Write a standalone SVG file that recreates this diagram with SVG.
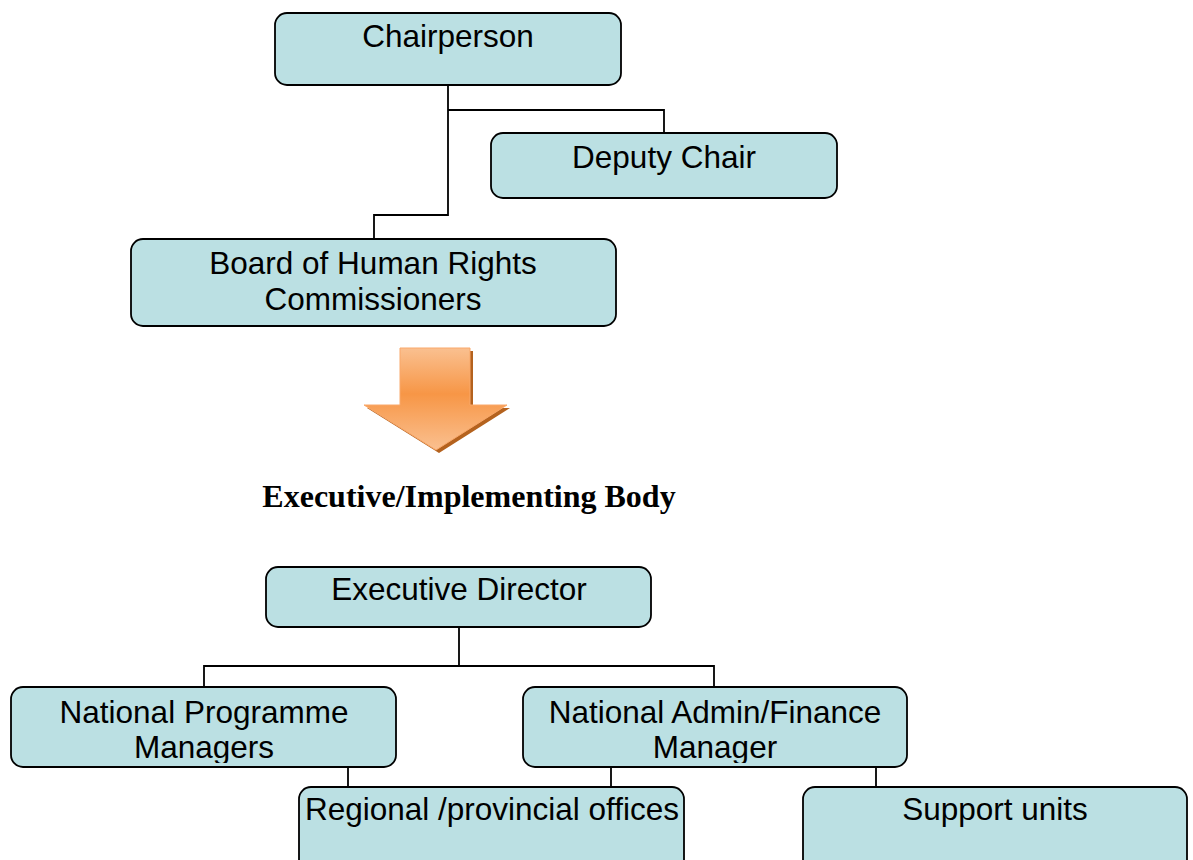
<svg xmlns="http://www.w3.org/2000/svg" width="1193" height="860" viewBox="0 0 1193 860">
  <style>
    .box { fill: #BBE0E3; stroke: #000; stroke-width: 1.8; }
    .lbl { font-family: "Liberation Sans", Arial, sans-serif; font-size: 31.5px; fill: #000; text-anchor: middle; }
    .conn { fill: none; stroke: #000; stroke-width: 1.8; }
    .title { font-family: "Liberation Serif", "Times New Roman", serif; font-size: 32px; font-weight: bold; fill: #000; text-anchor: middle; }
  </style>
  <defs>
    <linearGradient id="og" gradientUnits="userSpaceOnUse" x1="0" y1="348" x2="0" y2="450">
      <stop offset="0" stop-color="#FAC090"/>
      <stop offset="0.45" stop-color="#F79646"/>
      <stop offset="1" stop-color="#FAC090"/>
    </linearGradient>
    <clipPath id="clipNPM"><rect x="11" y="687" width="385" height="76"/></clipPath>
    <clipPath id="clipNAF"><rect x="523" y="687" width="384" height="76"/></clipPath>
  </defs>
  <rect width="1193" height="860" fill="#fff"/>

  <g id="connectors">
    <path class="conn" d="M448 85 V215 H374 V239"/>
    <path class="conn" d="M448 110 H664 V133"/>
    <path class="conn" d="M459 627 V666 M204 687 V666 H714 V687"/>
    <path class="conn" d="M348 767 V787 M611 767 V787 M876 767 V787"/>
  </g>

  <g id="chairperson">
    <rect class="box" x="275" y="13" width="346" height="72" rx="12"/>
    <text class="lbl" x="448" y="47">Chairperson</text>
  </g>
  <g id="deputy-chair">
    <rect class="box" x="491" y="133" width="346" height="65" rx="12"/>
    <text class="lbl" x="664" y="168">Deputy Chair</text>
  </g>
  <g id="board">
    <rect class="box" x="131" y="239" width="485" height="87" rx="12"/>
    <text class="lbl" x="373" y="274">Board of Human Rights</text>
    <text class="lbl" x="373" y="310">Commissioners</text>
  </g>

  <g id="arrow">
    <path d="M403 351 H473 V408 H510 L439 453 L367 408 H403 Z" fill="#B4621E"/>
    <path d="M400 348 H470 V405 H507 L436 450 L364 405 H400 Z" fill="url(#og)" stroke="#F9A86A" stroke-width="1"/>
  </g>

  <g id="executive-title">
    <text class="title" x="469" y="507">Executive/Implementing Body</text>
  </g>

  <g id="executive-director">
    <rect class="box" x="266" y="567" width="385" height="60" rx="12"/>
    <text class="lbl" x="459" y="600">Executive Director</text>
  </g>
  <g id="national-programme-managers">
    <rect class="box" x="11" y="687" width="385" height="80" rx="12"/>
    <g clip-path="url(#clipNPM)">
      <text class="lbl" x="204" y="723">National Programme</text>
      <text class="lbl" x="204" y="758">Managers</text>
    </g>
  </g>
  <g id="national-admin-finance-manager">
    <rect class="box" x="523" y="687" width="384" height="80" rx="12"/>
    <g clip-path="url(#clipNAF)">
      <text class="lbl" x="715" y="723">National Admin/Finance</text>
      <text class="lbl" x="715" y="758">Manager</text>
    </g>
  </g>
  <g id="regional-offices">
    <rect class="box" x="299" y="787" width="385" height="100" rx="12"/>
    <text class="lbl" x="492" y="820">Regional /provincial offices</text>
  </g>
  <g id="support-units">
    <rect class="box" x="803" y="787" width="384" height="100" rx="12"/>
    <text class="lbl" x="995" y="820">Support units</text>
  </g>
</svg>
